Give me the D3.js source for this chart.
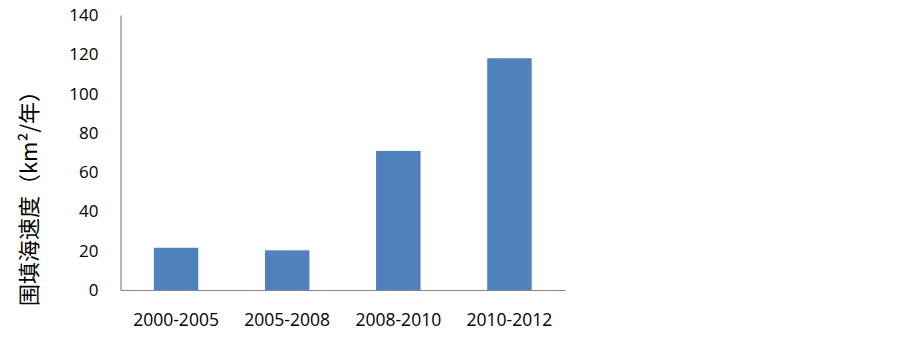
<!DOCTYPE html>
<html><head><meta charset="utf-8">
<script src="https://cdn.jsdelivr.net/npm/d3@7"></script>
<style>body{margin:0;background:#fff}</style>
</head><body>
<svg id="c" width="903" height="338"></svg>
<script>
const categories = ["2000-2005","2005-2008","2008-2010","2010-2012"];
const values = [21.5, 20.2, 70.8, 118];
const yTicks = [0,20,40,60,80,100,120,140];
const yTitle = "围填海速度（km²/年）";

const svg = d3.select("#c");
const x0 = 120.5, x1 = 565, yTop = 15, yBot = 290;
const x = d3.scaleBand().domain(categories).range([x0, x1]).paddingInner(0.6).paddingOuter(0.3);
const y = d3.scaleLinear().domain([0,140]).range([yBot, yTop]);

svg.selectAll("rect.bar").data(values).join("rect")
  .attr("x",(d,i)=>x(categories[i]))
  .attr("width",x.bandwidth())
  .attr("y",d=>y(d))
  .attr("height",d=>y(0)-y(d))
  .attr("fill","#4F81BD");

const yAxis = svg.append("g").attr("transform",`translate(${x0},0)`)
  .call(d3.axisLeft(y).tickValues(yTicks).tickSize(0).tickPadding(22));
yAxis.select(".domain").attr("stroke","#868686").attr("stroke-width",1.2);
yAxis.selectAll("text").attr("font-family","'Open Sans', sans-serif").attr("font-size",17).attr("fill","#000");

const xAxis = svg.append("g").attr("transform",`translate(0,${yBot})`)
  .call(d3.axisBottom(x).tickSize(0).tickPadding(24).tickSizeOuter(0));
xAxis.select(".domain").attr("stroke","#868686").attr("stroke-width",1.2);
xAxis.selectAll("text").attr("font-family","'Open Sans', sans-serif").attr("font-size",17.5).attr("fill","#000");

svg.append("text")
  .attr("transform","translate(27,193) rotate(-90)")
  .attr("text-anchor","middle").attr("dominant-baseline","central")
  .attr("font-family","'Noto Sans CJK SC', sans-serif").attr("font-size",22)
  .attr("fill","#000").text(yTitle);
</script>
</body></html>
